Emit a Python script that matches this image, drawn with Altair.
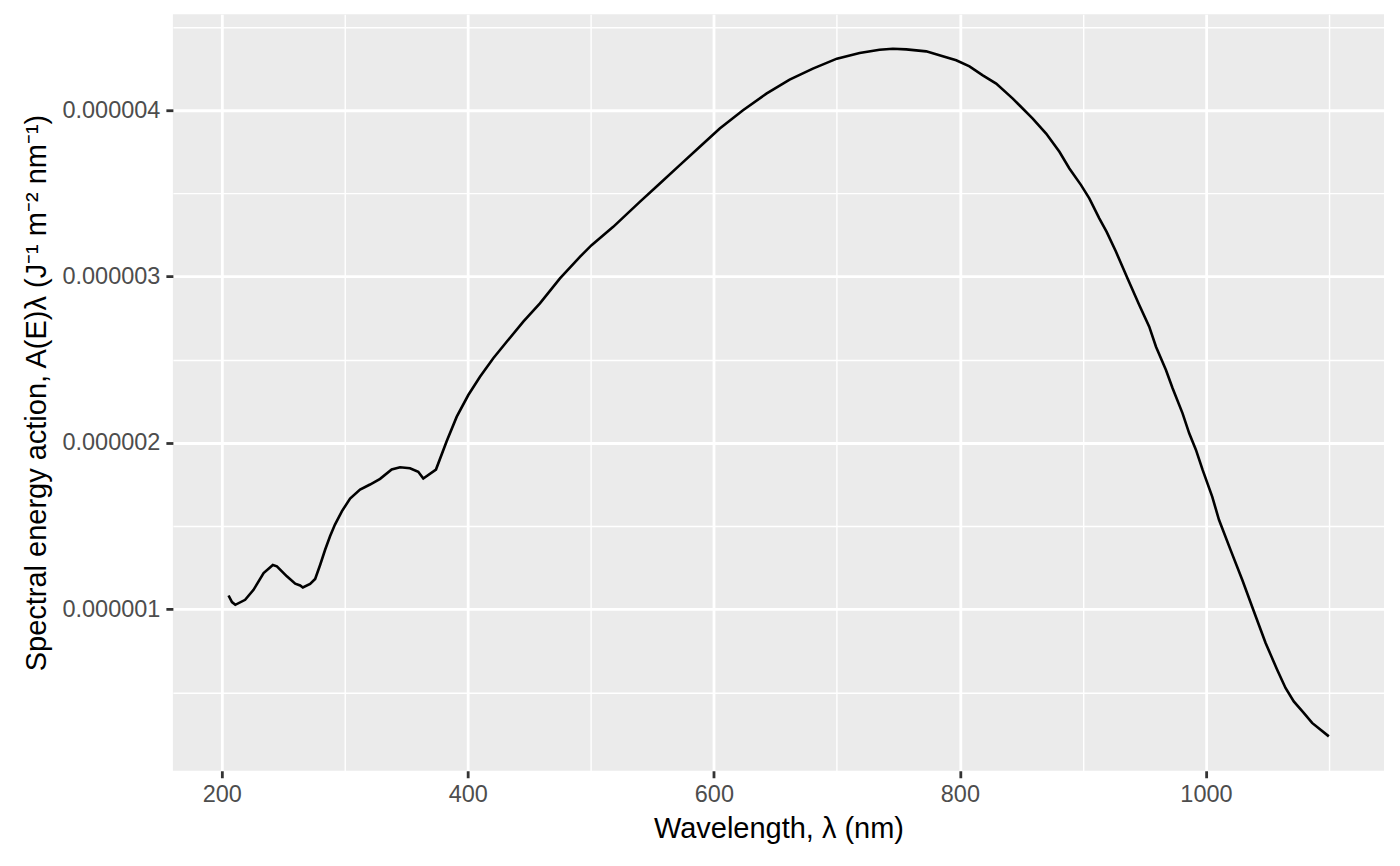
import altair as alt
import pandas as pd

# Wavelength (nm)
wavelength = [
    205.5, 208.3, 211.0, 219.0, 225.8, 234.0, 241.5, 244.8, 252.9, 259.7,
    263.7, 265.9, 271.8, 275.9, 280.0, 284.0, 288.0, 292.0, 297.6, 304.3,
    312.4, 320.5, 328.7, 338.1, 344.9, 353.0, 359.7, 363.8, 374.1, 382.8,
    391.0, 400.4, 409.9, 420.7, 431.6, 445.1, 458.6, 474.9, 491.1, 500.6,
    518.2, 539.8, 556.1, 572.3, 588.6, 604.8, 623.7, 642.7, 661.6, 680.5,
    700.0, 718.5, 734.7, 745.5, 756.4, 772.6, 786.1, 797.0, 807.8, 818.6,
    829.5, 843.0, 848.4, 859.2, 870.1, 880.9, 889.0, 898.5, 905.2, 913.3,
    919.3, 926.9, 936.3, 945.8, 953.9, 959.4, 967.5, 972.9, 981.0, 986.4,
    991.9, 997.3, 1005.1, 1010.6, 1020.0, 1029.5, 1039.0, 1048.5, 1057.9, 1064.7,
    1071.4, 1079.5, 1086.3, 1099.9,
]
# Spectral energy action (x 1e-6 J-1 m-2 nm-1)
action_e6 = [
    1.083, 1.043, 1.027, 1.057, 1.117, 1.218, 1.266, 1.258, 1.198, 1.154,
    1.143, 1.131, 1.152, 1.182, 1.268, 1.358, 1.439, 1.509, 1.589, 1.666,
    1.720, 1.750, 1.784, 1.840, 1.854, 1.848, 1.827, 1.786, 1.840, 2.010,
    2.158, 2.288, 2.398, 2.509, 2.608, 2.729, 2.839, 2.989, 3.119, 3.189,
    3.299, 3.449, 3.560, 3.670, 3.780, 3.890, 4.000, 4.100, 4.184, 4.250,
    4.310, 4.344, 4.364, 4.370, 4.366, 4.354, 4.324, 4.300, 4.264, 4.210,
    4.160, 4.070, 4.030, 3.950, 3.860, 3.750, 3.650, 3.550, 3.470, 3.350,
    3.269, 3.149, 2.989, 2.829, 2.699, 2.578, 2.438, 2.329, 2.178, 2.058,
    1.958, 1.838, 1.677, 1.538, 1.357, 1.177, 0.987, 0.797, 0.637, 0.527,
    0.446, 0.377, 0.317, 0.236,
]

x_breaks = [200, 300, 400, 500, 600, 700, 800, 900, 1000, 1100]
y_breaks = [0.5e-6, 1e-6, 1.5e-6, 2e-6, 2.5e-6, 3e-6, 3.5e-6, 4e-6, 4.5e-6]

df = pd.DataFrame({
    "wl": wavelength,
    "A": [v * 1e-6 for v in action_e6],
})

FONT = "Liberation Sans"
x_major = "datum.value % 200 === 0"
y_major = "round(datum.value * 2e6) % 2 === 0"

x_axis = alt.Axis(
    values=x_breaks,
    title="Wavelength, λ (nm)",
    labelExpr=f"{x_major} ? format(datum.value, 'd') : ''",
    domain=False,
    grid=True,
    gridColor="white",
    gridWidth={"condition": {"test": x_major, "value": 2.8}, "value": 1.4},
    tickColor={"condition": {"test": x_major, "value": "#333333"}, "value": "rgba(0,0,0,0)"},
    tickWidth=2.8,
    tickSize=7,
    labelFont=FONT,
    labelFontSize=23.5,
    labelColor="#4D4D4D",
    labelPadding=5,
    titleFont=FONT,
    titleFontSize=29,
    titleFontWeight="normal",
    titleColor="black",
    titlePadding=8,
)

y_axis = alt.Axis(
    values=y_breaks,
    title="Spectral energy action, A(E)λ (J⁻¹ m⁻² nm⁻¹)",
    labelExpr=f"{y_major} ? format(datum.value, '.6f') : ''",
    domain=False,
    grid=True,
    gridColor="white",
    gridWidth={"condition": {"test": y_major, "value": 2.8}, "value": 1.4},
    tickColor={"condition": {"test": y_major, "value": "#333333"}, "value": "rgba(0,0,0,0)"},
    tickWidth=2.8,
    tickSize=7,
    labelFont=FONT,
    labelFontSize=23.5,
    labelColor="#4D4D4D",
    labelPadding=6,
    titleFont=FONT,
    titleFontSize=29,
    titleFontWeight="normal",
    titleColor="black",
    titlePadding=10,
)

chart = (
    alt.Chart(df)
    .mark_line(color="black", strokeWidth=2.6)
    .encode(
        x=alt.X("wl:Q", scale=alt.Scale(domain=[160.25, 1144.75], nice=False, zero=False), axis=x_axis),
        y=alt.Y("A:Q", scale=alt.Scale(domain=[0.0293e-6, 4.5767e-6], nice=False, zero=False), axis=y_axis),
        order="wl:Q",
    )
    .properties(
        width=1212,
        height=757,
        autosize=alt.AutoSizeParams(type="none"),
        padding={"left": 165, "top": 6, "right": 8, "bottom": 90},
        background="white",
    )
    .configure_view(fill="#EBEBEB", stroke=None)
)

chart.save("out.html", embed_options={"renderer": "svg", "actions": False})
